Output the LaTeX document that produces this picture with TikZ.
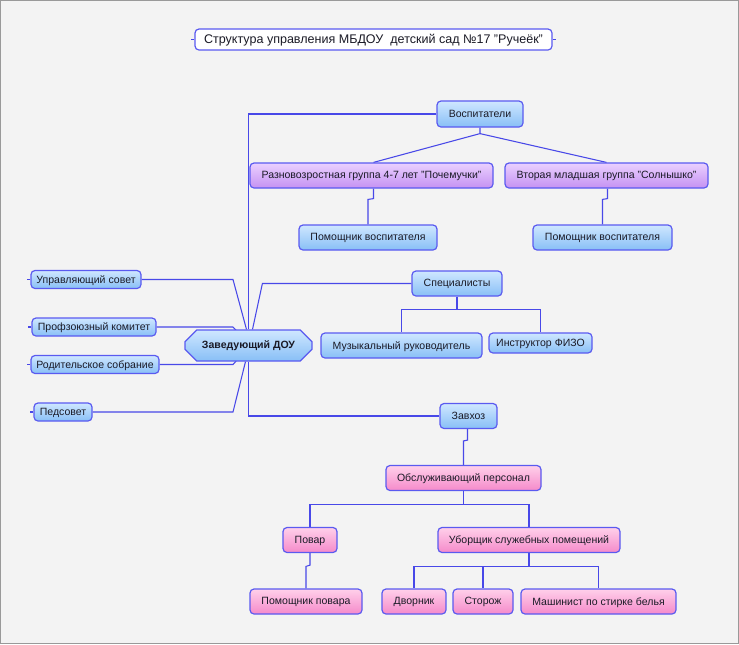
\documentclass[tikz,border=0pt]{standalone}
\usepackage{fontspec}
\setmainfont{Liberation Sans}
\usetikzlibrary{shapes.misc,calc}
\definecolor{bgc}{HTML}{F3F3F3}
\definecolor{bord}{HTML}{5A5AF0}
\definecolor{lnk}{HTML}{4848E8}
\definecolor{btop}{HTML}{CFE7FF}
\definecolor{bbot}{HTML}{88BFF6}
\definecolor{ptop}{HTML}{FFD0EA}
\definecolor{pbot}{HTML}{F58ACA}
\definecolor{vtop}{HTML}{EAD0FF}
\definecolor{vbot}{HTML}{C592F2}
\definecolor{txt}{HTML}{1A1A26}
\pgfdeclarelayer{bg}
\pgfdeclarelayer{edges}
\pgfsetlayers{bg,edges,main}
\begin{document}
\begin{tikzpicture}[x=0.75pt,y=-0.75pt,
  font=\fontsize{7.9}{9.5}\selectfont, text=txt,
  box/.style={draw=bord, line width=0.9pt, rounded corners=3pt, inner sep=0pt, align=center, text depth=0.3pt},
  sz/.style 2 args={minimum width=#1*0.75pt, minimum height=#2*0.75pt},
  bluebox/.style={box, top color=btop, bottom color=bbot},
  pinkbox/.style={box, top color=ptop, bottom color=pbot},
  violetbox/.style={box, top color=vtop, bottom color=vbot},
  link/.style={draw=lnk, line width=0.8pt}]
\useasboundingbox (0,0) rectangle (739,644);
\begin{pgfonlayer}{bg}
\fill[bgc] (0,0) rectangle (739,644);
\draw[black!40, line width=0.75pt] (0.5,0.5) rectangle (738.5,643.5);
\end{pgfonlayer}

% title
\node[box, fill=white, sz={357}{21}, font=\fontsize{9.4}{11}\selectfont] (title) at (373.5,39.5) {Структура управления МБДОУ\ \ детский сад №17 "Ручеёк"};

% top branch
\node[bluebox, sz={86}{26}] (vos) at (480,114) {Воспитатели};
\node[violetbox, sz={243}{25}] (grp1) at (371.5,175.5) {Разновозростная группа 4-7 лет "Почемучки"};
\node[violetbox, sz={203}{25}] (grp2) at (606.5,175.5) {Вторая младшая группа "Солнышко"};
\node[bluebox, sz={138}{25}] (pv1) at (368,237.5) {Помощник воспитателя};
\node[bluebox, sz={139}{25}] (pv2) at (602.5,237.5) {Помощник воспитателя};

% left nodes
\node[bluebox, sz={110}{18}] (uprav) at (86,279.5) {Управляющий совет};
\node[bluebox, sz={124}{18}] (prof) at (94,327) {Профзоюзный комитет};
\node[bluebox, sz={128}{18}] (rod) at (95,364.5) {Родительское собрание};
\node[bluebox, sz={58}{18}] (ped) at (63,412) {Педсовет};

% central
\node[draw=bord, line width=0.9pt, top color=btop, bottom color=bbot, inner sep=0pt,
      chamfered rectangle, chamfered rectangle xsep=5pt, chamfered rectangle ysep=5pt,
      sz={127}{31}, font=\fontsize{7.9}{9.5}\selectfont\bfseries] (zav) at (248.5,345.5) {Заведующий ДОУ};

% specialists
\node[bluebox, sz={90}{25}] (spec) at (457,283.5) {Специалисты};
\node[bluebox, sz={161}{25}] (muz) at (401.5,345.5) {Музыкальный руководитель};
\node[bluebox, sz={103}{20}] (fizo) at (540.5,343) {Инструктор ФИЗО};

% zavhoz branch
\node[bluebox, sz={57}{25}] (zavhoz) at (468.5,416) {Завхоз};
\node[pinkbox, sz={155}{25}] (obs) at (463.5,478) {Обслуживающий персонал};
\node[pinkbox, sz={54}{25}] (povar) at (310,540) {Повар};
\node[pinkbox, sz={182}{25}] (ub) at (529,540) {Уборщик служебных помещений};
\node[pinkbox, sz={112}{25}] (pompov) at (306,601.5) {Помощник повара};
\node[pinkbox, sz={64}{25}] (dv) at (414,601.5) {Дворник};
\node[pinkbox, sz={60}{25}] (st) at (483,601.5) {Сторож};
\node[pinkbox, sz={155}{25}] (mash) at (598.5,601.5) {Машинист по стирке белья};

\begin{pgfonlayer}{edges}
% stubs
\draw[link] (title.west) -- ++(-3,0);
\draw[link] (title.east) -- ++(3,0);
\foreach \n in {uprav,prof,rod,ped} \draw[link] (\n.west) -- ++(-3,0);
% main trunk
\draw[link] (vos.west) -| (zav.north);
\draw[link] (zav.south) |- (zavhoz.west);
\draw[link] (spec.west) -- ++(-149,0) -- ($(zav.north)+(4,0)$);
% left
\draw[link] (uprav.east) -- (233,279.5) -- ($(zav.north)+(-2,0)$);
\draw[link] (prof.east) -- (233,327) -- (237,331);
\draw[link] (rod.east) -- (233,364.5) -- (237,360);
\draw[link] (ped.east) -- (233,412) -- ($(zav.south)+(-3,0)$);
% vos children
\draw[link] (vos.south) -- ++(0,6) coordinate (vj) -- ($(grp1.north)+(2,0)$);
\draw[link] (vj) -- (grp2.north);
\draw[link] ($(grp1.south)+(2,0)$) -- ++(0,10) -- ($(pv1.north)+(0,-25)$) -- (pv1.north);
\draw[link] ($(grp2.south)+(1,0)$) -- ++(0,10) -- ($(pv2.north)+(0,-25)$) -- (pv2.north);
% specialists
\draw[link] (spec.south) -- ++(0,13) -| (muz.north);
\draw[link] (spec.south) -- ++(0,13) -| (fizo.north);
% zavhoz
\draw[link] ($(zavhoz.south)+(-1,0)$) -- ++(0,11) -- ($(obs.north)+(0,-24)$) -- (obs.north);
\draw[link] (obs.south) -- ++(0,13) -| (povar.north);
\draw[link] (obs.south) -- ++(0,13) -| (ub.north);
\draw[link] (povar.south) -- ++(0,12) -- ($(pompov.north)+(0,-22)$) -- (pompov.north);
\draw[link] (ub.south) -- ++(0,13) -| (dv.north);
\draw[link] (ub.south) -- ++(0,13) -| (st.north);
\draw[link] (ub.south) -- ++(0,13) -| (mash.north);
\end{pgfonlayer}
\end{tikzpicture}
\end{document}
